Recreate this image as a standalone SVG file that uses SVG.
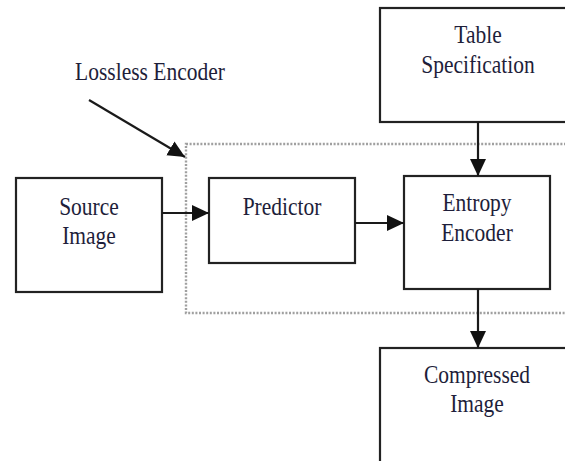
<svg xmlns="http://www.w3.org/2000/svg" width="565" height="461" viewBox="0 0 565 461">
  <style>
    .box { fill: #ffffff; stroke: #222222; stroke-width: 2.2; }
    .lbl { font-family: "Liberation Serif", "Times New Roman", serif; font-size: 21.5px; fill: #1e1e3a; text-anchor: middle; }
    .edge { fill: none; stroke: #1a1a1a; stroke-width: 2.2; }
    .frame { fill: none; stroke: #a0a0a0; stroke-width: 2.4; stroke-dasharray: 2 1.6; }
  </style>
  <defs>
    <marker id="head" markerUnits="userSpaceOnUse" markerWidth="18" markerHeight="17" refX="17" refY="8" orient="auto">
      <path d="M0,0 L17,8 L0,16 Z" fill="#111111"/>
    </marker>
  </defs>
  <rect width="565" height="461" fill="#ffffff"/>

  <!-- lossless encoder boundary -->
  <rect class="frame" x="186" y="144" width="400" height="169"/>
  <g id="label-lossless">
    <g transform="translate(150,80) scale(1,1.18)"><text class="lbl" x="0" y="0">Lossless Encoder</text></g>
  </g>

  <g id="source-image">
    <rect class="box" x="16" y="178" width="146" height="114"/>
    <g transform="translate(89,215) scale(1,1.18)"><text class="lbl" x="0" y="0">Source</text></g>
    <g transform="translate(89,244) scale(1,1.18)"><text class="lbl" x="0" y="0">Image</text></g>
  </g>

  <g id="predictor">
    <rect class="box" x="209" y="178" width="146" height="85"/>
    <g transform="translate(282,215) scale(1,1.18)"><text class="lbl" x="0" y="0">Predictor</text></g>
  </g>

  <g id="entropy-encoder">
    <rect class="box" x="404" y="176" width="146" height="113"/>
    <g transform="translate(477,211) scale(1,1.18)"><text class="lbl" x="0" y="0">Entropy</text></g>
    <g transform="translate(477,241) scale(1,1.18)"><text class="lbl" x="0" y="0">Encoder</text></g>
  </g>

  <g id="table-specification">
    <rect class="box" x="380" y="8" width="200" height="114"/>
    <g transform="translate(478,43) scale(1,1.18)"><text class="lbl" x="0" y="0">Table</text></g>
    <g transform="translate(478,73) scale(1,1.18)"><text class="lbl" x="0" y="0">Specification</text></g>
  </g>

  <g id="compressed-image">
    <rect class="box" x="380" y="348" width="200" height="130"/>
    <g transform="translate(477,383) scale(1,1.18)"><text class="lbl" x="0" y="0">Compressed</text></g>
    <g transform="translate(477,412) scale(1,1.18)"><text class="lbl" x="0" y="0">Image</text></g>
  </g>

  <g id="connectors">
    <line class="edge" x1="89" y1="100" x2="185" y2="157" marker-end="url(#head)"/>
    <line class="edge" x1="162" y1="213" x2="209" y2="213" marker-end="url(#head)"/>
    <line class="edge" x1="355" y1="223" x2="404" y2="223" marker-end="url(#head)"/>
    <line class="edge" x1="478" y1="122" x2="478" y2="176" marker-end="url(#head)"/>
    <line class="edge" x1="478" y1="289" x2="478" y2="348" marker-end="url(#head)"/>
  </g>
</svg>
